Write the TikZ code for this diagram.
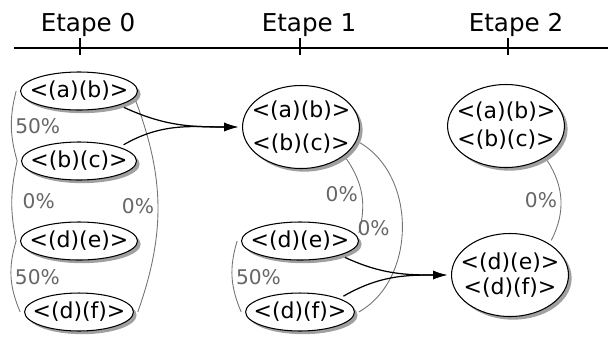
\documentclass[tikz,border=0pt]{standalone}
\usepackage{fontspec}
\setmainfont{DejaVu Sans}
\usetikzlibrary{shapes.geometric,shadows,arrows.meta}

\begin{document}
\begin{tikzpicture}[x=0.02cm,y=0.02cm,
  every path/.style={>={Latex[length=8pt,width=5pt]}},
  seq/.style={draw,ellipse,fill=white,line width=0.6pt,inner xsep=-4.5pt,inner ysep=0pt,outer sep=2.5pt,
    minimum width=2.16cm,minimum height=0.76cm,align=center,
    font=\fontsize{12.5}{14}\selectfont,
    drop shadow={shadow xshift=1.8pt,shadow yshift=-1.8pt,fill=black!50,opacity=0.75}},
  bigseq/.style={seq,minimum width=2.22cm,minimum height=1.66cm},
  head/.style={font=\fontsize{14}{16}\selectfont,anchor=base},
  pct/.style={font=\fontsize{11.5}{13}\selectfont,text=black!60,inner sep=2pt},
  link/.style={draw=black!55,line width=0.5pt},
  flow/.style={->,line width=0.7pt}]
\useasboundingbox (0,0) rectangle (608,-339);
\node[head]       (h0)    at (88,-31)   {Etape 0};
\node[head]       (h1)    at (309,-31)  {Etape 1};
\node[head]       (h2)    at (516,-31)  {Etape 2};
\coordinate       (axl)   at (14,-48);
\coordinate       (axr)   at (608,-48);
\draw[line width=0.6pt] (axl) -- (axr);
\draw[line width=0.6pt] (80,-38)  -- (80,-55);
\draw[line width=0.6pt] (300,-38) -- (300,-55);
\draw[line width=0.6pt] (508,-38) -- (508,-55);
\node[seq]        (ab0)   at (79,-91)   {<(a)(b)>};
\node[seq]        (bc0)   at (79,-161)  {<(b)(c)>};
\node[seq]        (de0)   at (79,-241)  {<(d)(e)>};
\node[seq]        (df0)   at (79,-312)  {<(d)(f)>};
\node[bigseq]     (abbc1) at (301,-127) {<(a)(b)>\\[5pt]<(b)(c)>};
\node[seq]        (de1)   at (300,-241) {<(d)(e)>};
\node[seq]        (df1)   at (300,-312) {<(d)(f)>};
\node[bigseq]     (abbc2) at (506,-126) {<(a)(b)>\\[2pt]<(b)(c)>};
\node[bigseq]     (dedf2) at (510,-275) {<(d)(e)>\\[0pt]<(d)(f)>};
\draw[link] (ab0.west)   to[bend right=15] node[pct,right]      {50\%} (bc0.west);
\draw[link] (bc0.west)   to[bend right=12] node[pct,right=4pt]  {0\%}  (de0.west);
\draw[link] (de0.west)   to[bend right=20] node[pct,right]      {50\%} (df0.west);
\draw[link] (ab0.-10)    to[bend left=20]  node[pct,left]       {0\%}  (df0.east);
\draw[link] (abbc1.-35)  to[bend left=25]  node[pct,left]       {0\%}  (de1.8);
\draw[link] (abbc1.-15)  to[bend left=60]  node[pct,left=5pt]   {0\%}  (df1.east);
\draw[link] (de1.west)   to[bend right=20] node[pct,right]      {50\%} (df1.west);
\draw[link] (abbc2.-40)  to[bend left=30]  node[pct,left]       {0\%}  (dedf2.40);
\draw[flow] (ab0.-20)    to[out=-25,in=180] (abbc1.west);
\draw[flow] (bc0.20)     to[out=30,in=180]  (abbc1.west);
\draw[flow] (de1.-20)    to[out=-25,in=180] (dedf2.west);
\draw[flow] (df1.20)     to[out=30,in=180]  (dedf2.west);
\end{tikzpicture}
\end{document}
